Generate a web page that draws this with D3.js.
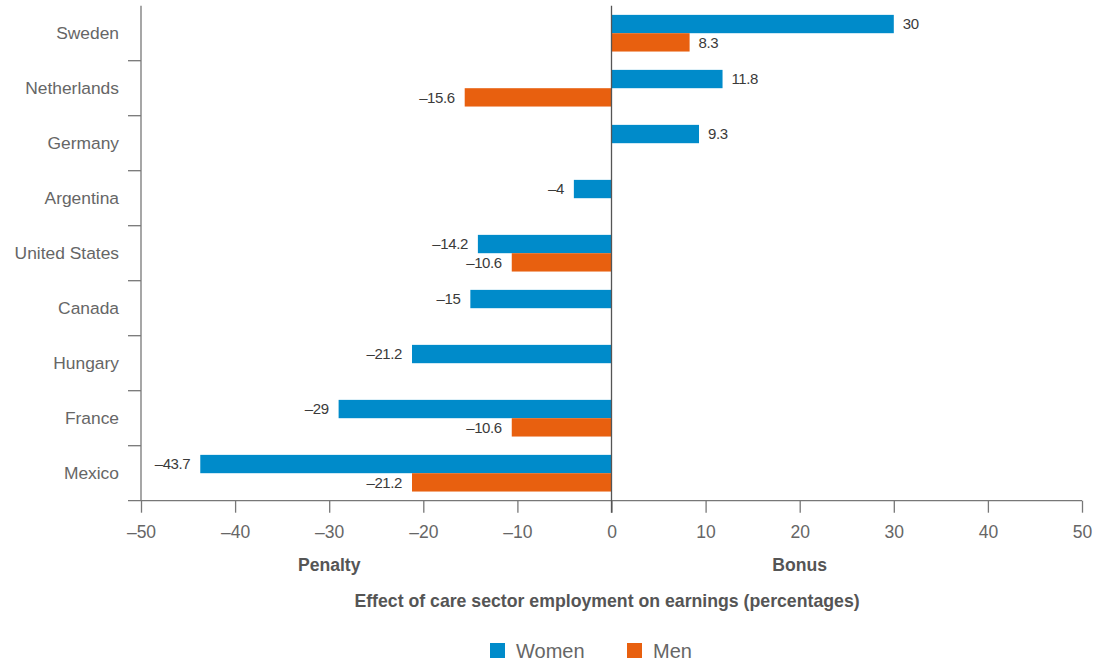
<!DOCTYPE html>
<html>
<head>
<meta charset="utf-8">
<script src="https://cdn.jsdelivr.net/npm/d3@7"></script>
<style>
  body { margin: 0; background: #fff; }
  svg { font-family: "Liberation Sans", Arial, sans-serif; }
</style>
</head>
<body>
<svg id="chart" width="1094" height="660"></svg>
<script>
const countries = ["Sweden", "Netherlands", "Germany", "Argentina", "United States", "Canada", "Hungary", "France", "Mexico"];
const women = [30, 11.8, 9.3, -4, -14.2, -15, -21.2, -29, -43.7];
const men = [8.3, -15.6, null, null, -10.6, null, null, -10.6, -21.2];
const seriesNames = ["Women", "Men"];
const seriesColors = ["#008bca", "#e8600f"];
const xTicks = [-50, -40, -30, -20, -10, 0, 10, 20, 30, 40, 50];

const fmt = v => (v < 0 ? "\u2013" : "") + Math.abs(v);

const svg = d3.select("#chart");

const x = d3.scaleLinear().domain([-50, 50]).range([141, 1082]);
const y = d3.scaleBand().domain(countries).range([5.7, 500.7]).padding(0);
const ySub = d3.scaleBand().domain(seriesNames).range([0, y.bandwidth()]).paddingInner(0).paddingOuter(0.5);

const rows = [];
countries.forEach((c, i) => {
  [women[i], men[i]].forEach((v, s) => {
    if (v !== null) rows.push({ country: c, series: seriesNames[s], value: v, color: seriesColors[s] });
  });
});

// bars
svg.append("g").selectAll("rect")
  .data(rows)
  .enter().append("rect")
  .attr("x", d => x(Math.min(0, d.value)))
  .attr("width", d => Math.abs(x(d.value) - x(0)))
  .attr("y", d => y(d.country) + ySub(d.series))
  .attr("height", ySub.bandwidth())
  .attr("fill", d => d.color);

// value labels
svg.append("g").selectAll("text")
  .data(rows)
  .enter().append("text")
  .attr("x", d => d.value >= 0 ? x(d.value) + 9 : x(d.value) - 10)
  .attr("y", d => y(d.country) + ySub(d.series) + ySub.bandwidth() / 2)
  .attr("dy", "0.35em")
  .attr("text-anchor", d => d.value >= 0 ? "start" : "end")
  .style("font-size", "15px")
  .style("letter-spacing", "-0.4px")
  .attr("fill", "#3a3a3a")
  .text(d => fmt(d.value));

// x axis
const xAxis = svg.append("g")
  .attr("transform", `translate(0,${y.range()[1]})`)
  .call(d3.axisBottom(x).tickValues(xTicks).tickSize(12).tickPadding(13).tickFormat(fmt));
xAxis.select(".domain").remove();
xAxis.selectAll(".tick line").attr("stroke", "#777").attr("stroke-width", 1.3);
xAxis.selectAll(".tick text").attr("fill", "#666").style("font-size", "17.5px");

svg.append("line")
  .attr("x1", 128).attr("x2", x(50))
  .attr("y1", y.range()[1]).attr("y2", y.range()[1])
  .attr("stroke", "#777").attr("stroke-width", 1.3);

// left axis with category separators
svg.append("line")
  .attr("x1", x(-50)).attr("x2", x(-50))
  .attr("y1", y.range()[0]).attr("y2", y.range()[1])
  .attr("stroke", "#777").attr("stroke-width", 1.3);

svg.append("g").selectAll("line")
  .data(countries.slice(1))
  .enter().append("line")
  .attr("x1", 128).attr("x2", x(-50))
  .attr("y1", d => y(d)).attr("y2", d => y(d))
  .attr("stroke", "#777").attr("stroke-width", 1.3);

svg.append("g").selectAll("text")
  .data(countries)
  .enter().append("text")
  .attr("x", 119)
  .attr("y", d => y(d) + y.bandwidth() / 2)
  .attr("dy", "0.35em")
  .attr("text-anchor", "end")
  .attr("fill", "#666")
  .style("font-size", "17.4px")
  .text(d => d);

// zero line
svg.append("line")
  .attr("x1", x(0)).attr("x2", x(0))
  .attr("y1", y.range()[0]).attr("y2", y.range()[1] + 12)
  .attr("stroke", "#555").attr("stroke-width", 1.3);

// penalty / bonus labels and axis title
svg.append("text")
  .attr("x", x(-30)).attr("y", 571)
  .attr("text-anchor", "middle")
  .attr("fill", "#555")
  .style("font-size", "17.6px").style("font-weight", "bold")
  .text("Penalty");

svg.append("text")
  .attr("x", x(20)).attr("y", 571)
  .attr("text-anchor", "middle")
  .attr("fill", "#555")
  .style("font-size", "17.6px").style("font-weight", "bold")
  .text("Bonus");

svg.append("text")
  .attr("x", 607).attr("y", 607)
  .attr("text-anchor", "middle")
  .attr("fill", "#555")
  .style("font-size", "17.7px").style("font-weight", "bold")
  .text("Effect of care sector employment on earnings (percentages)");

// legend
const legendX = [490, 627];
const legend = svg.append("g").selectAll("g")
  .data(seriesNames)
  .enter().append("g")
  .attr("transform", (d, i) => `translate(${legendX[i]},643)`);

legend.append("rect")
  .attr("width", 15).attr("height", 15)
  .attr("fill", (d, i) => seriesColors[i]);

legend.append("text")
  .attr("x", 26).attr("y", 14.5)
  .attr("fill", "#666")
  .style("font-size", "20px")
  .text(d => d);
</script>
</body>
</html>
